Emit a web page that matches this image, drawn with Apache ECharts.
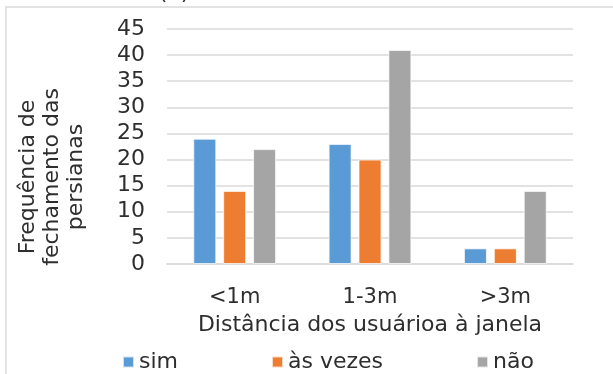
<!DOCTYPE html>
<html>
<head>
<meta charset="utf-8">
<script src="https://cdn.jsdelivr.net/npm/echarts@6/dist/echarts.min.js"></script>
<style>
  html, body { margin: 0; padding: 0; background: #fff; }
  #chart { width: 613px; height: 374px; }
</style>
</head>
<body>
<div id="chart"></div>
<script>
// Distance classes of the users from the window
const categories = ['<1m', '1-3m', '>3m'];
// Blind-closing answers per distance class
const sim = [24, 23, 3];
const asVezes = [14, 20, 3];
const nao = [22, 41, 14];
const yTicks = { min: 0, max: 45, interval: 5 };

const FONT = 'DejaVu Sans';
const TEXT = '#2e2e2e';
const GRID = '#d9d9d9';

const chart = echarts.init(document.getElementById('chart'), null, { renderer: 'canvas' });

function barSeries(name, data, color) {
  return {
    name: name,
    type: 'bar',
    data: data,
    barWidth: 23,
    barGap: '30%',
    itemStyle: { color: color, borderColor: 'rgba(255,255,255,0.7)', borderWidth: 1 },
    emphasis: { disabled: true }
  };
}

chart.setOption({
  animation: false,
  backgroundColor: '#fff',
  textStyle: { fontFamily: FONT },
  grid: { left: 167, right: 40, top: 29, bottom: 110, containLabel: false },
  legend: {
    left: 117,
    top: 346,
    itemWidth: 11,
    itemHeight: 11,
    itemGap: 93,
    icon: 'rect',
    textStyle: { fontFamily: FONT, fontSize: 22, color: TEXT },
    data: ['sim', 'às vezes', 'não']
  },
  xAxis: {
    type: 'category',
    data: categories,
    name: 'Distância dos usuárioa à janela',
    nameLocation: 'middle',
    nameGap: 50,
    nameTextStyle: { fontFamily: FONT, fontSize: 22, color: TEXT },
    axisLine: { show: true, lineStyle: { color: GRID, width: 1.5 } },
    axisTick: { show: false },
    axisLabel: { fontFamily: FONT, fontSize: 21, color: TEXT, margin: 23 }
  },
  yAxis: {
    type: 'value',
    min: yTicks.min,
    max: yTicks.max,
    interval: yTicks.interval,
    axisLine: { show: false },
    axisTick: { show: false },
    splitLine: { lineStyle: { color: GRID, width: 1.5 } },
    axisLabel: { fontFamily: FONT, fontSize: 22, color: TEXT, margin: 22 }
  },
  graphic: [
    {
      type: 'rect',
      silent: true,
      shape: { x: 6, y: 7, width: 640, height: 400 },
      style: { fill: 'none', stroke: GRID, lineWidth: 1.5 }
    },
    {
      type: 'text',
      silent: true,
      x: 174,
      y: -7,
      style: {
        text: '(a)',
        fontFamily: FONT,
        fontSize: 22,
        fill: TEXT,
        align: 'center',
        verticalAlign: 'middle'
      }
    },
    {
      type: 'text',
      silent: true,
      x: 52,
      y: 177,
      rotation: Math.PI / 2,
      style: {
        text: 'Frequência de\nfechamento das\npersianas',
        fontFamily: FONT,
        fontSize: 22,
        lineHeight: 24,
        fill: TEXT,
        align: 'center',
        verticalAlign: 'middle'
      }
    }
  ],
  series: [
    barSeries('sim', sim, '#5B9BD5'),
    barSeries('às vezes', asVezes, '#ED7D31'),
    barSeries('não', nao, '#A5A5A5')
  ]
});
</script>
</body>
</html>
